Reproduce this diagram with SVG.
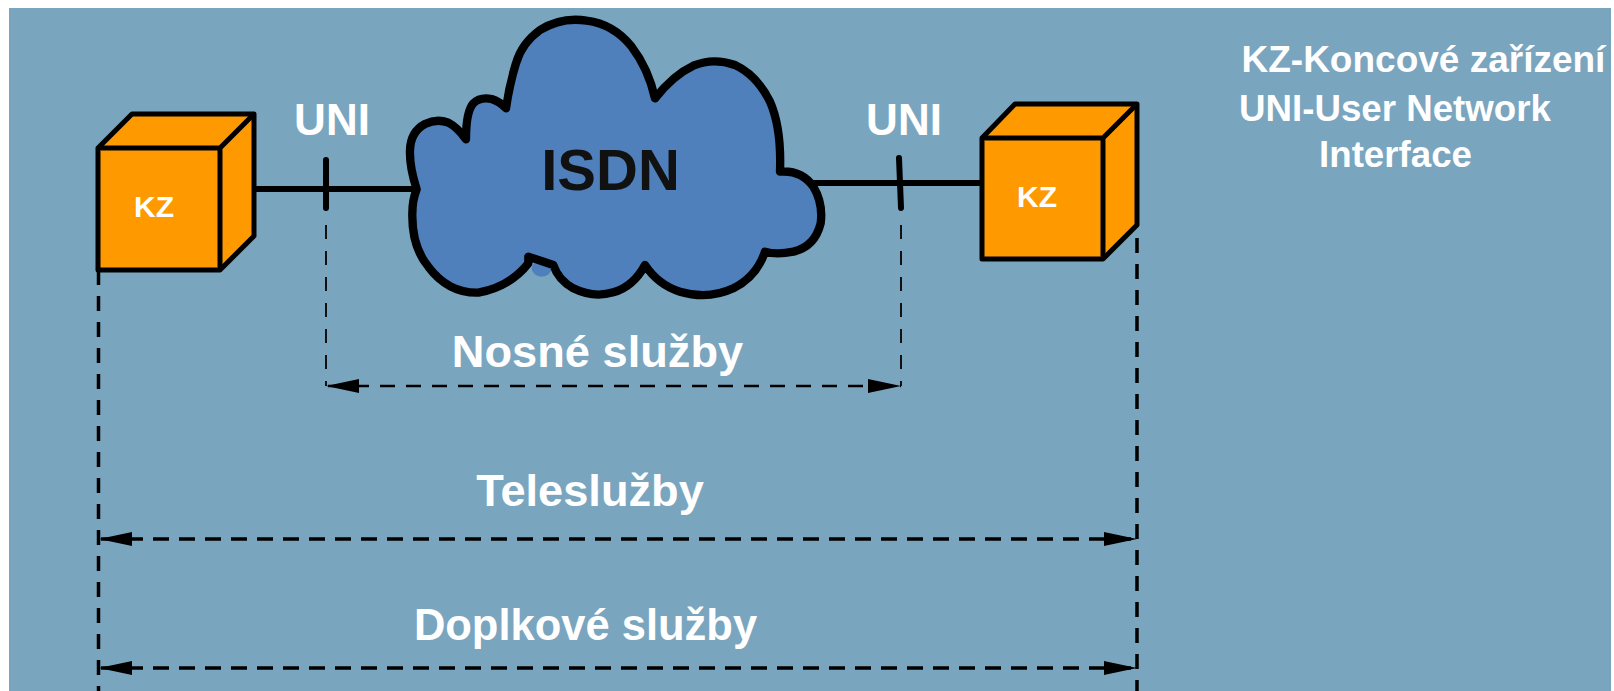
<svg xmlns="http://www.w3.org/2000/svg" width="1614" height="691" viewBox="0 0 1614 691">
<style>
text{font-family:"Liberation Sans",Arial,sans-serif;font-weight:700;fill:#fff}
.m{text-anchor:middle}
.cube{fill:#f90;stroke:#000;stroke-width:5;stroke-linejoin:round}
.wire{stroke:#000;stroke-width:6;stroke-linecap:round;fill:none}
.thin{stroke:#111;stroke-width:2;stroke-dasharray:14 12;fill:none}
.ext{stroke:#000;stroke-width:3.500;stroke-dasharray:15 11;fill:none}
.dim{stroke:#000;stroke-width:3.500;stroke-dasharray:16 10;stroke-dashoffset:-2;fill:none}
.dimthin{stroke:#000;stroke-width:2.500;stroke-dasharray:15 11;stroke-dashoffset:-2;fill:none}
</style>
<defs>
<marker id="ah" markerUnits="userSpaceOnUse" markerWidth="34" markerHeight="14" refX="33" refY="7" orient="auto-start-reverse"><path d="M33 7L0 0V14Z" fill="#000"/></marker>
</defs>
<rect width="1614" height="691" fill="#fff"/>
<rect x="9" y="8" width="1602" height="683" fill="#7aa5bf"/>
<g id="connectors">
<path class="wire" d="M254 189H420M800 183H982"/>
<path class="wire" d="M326 160V208M899 158L901 208"/>
<path class="thin" d="M326 225V386M901 225V386"/>
<path class="ext" d="M98.500 270V691M1137 238V691"/>
<path class="dimthin" d="M326 386H901" marker-start="url(#ah)" marker-end="url(#ah)"/>
<path class="dim" d="M99 539H1137" marker-start="url(#ah)" marker-end="url(#ah)"/>
<path class="dim" d="M99 668H1137" marker-start="url(#ah)" marker-end="url(#ah)"/>
</g>
<g id="cloud">
<g transform="translate(380 0) scale(0.33333)">
<ellipse cx="485" cy="805" rx="30" ry="25" fill="#4f80bc"/>
<path fill="#4f80bc" stroke="#000" stroke-width="25" stroke-linejoin="round" stroke-linecap="round" d="M110 568Q88 500 90 450Q92 395 135 372Q170 355 205 368Q232 382 258 418Q258 335 280 310Q300 290 335 297Q360 305 378 325Q388 255 408 190Q425 130 480 90Q545 50 620 62Q700 72 755 140Q805 205 825 295Q880 225 940 197Q1000 172 1065 195Q1130 225 1170 305Q1205 385 1200 515Q1265 510 1300 560Q1330 610 1322 670Q1305 740 1240 755Q1190 765 1155 755Q1130 830 1060 865Q985 900 900 875Q835 855 795 795Q760 860 700 877Q640 895 580 865Q535 840 520 795L445 770L445 790Q390 860 295 878Q205 880 145 800Q95 740 97 640Q97 600 110 568Z"/>
</g>
<text class="m" x="610.500" y="190" font-size="58" style="fill:#111">ISDN</text>
</g>
<g id="kz-left">
<path class="cube" d="M98 148L132 114H254V236L220 270H98Z"/>
<path class="cube" d="M98 148H220V270M220 148L254 114"/>
<text class="m" x="154" y="217" font-size="30">KZ</text>
</g>
<g id="kz-right">
<path class="cube" d="M982 138L1015 104H1137V225L1103 259H982Z"/>
<path class="cube" d="M982 138H1103V259M1103 138L1137 104"/>
<text class="m" x="1037" y="207" font-size="30">KZ</text>
</g>
<g id="labels">
<text class="m" x="332" y="135" font-size="44">UNI</text>
<text class="m" x="904" y="135" font-size="44">UNI</text>
<text class="m" x="597.500" y="367" font-size="45.200">Nosné služby</text>
<text class="m" x="590" y="506" font-size="45.200">Teleslužby</text>
<text class="m" x="585.500" y="640" font-size="43.500">Doplkové služby</text>
<text x="1241.500" y="72" font-size="37">KZ-Koncové zařízení</text>
<text x="1239" y="121" font-size="36.700">UNI-User Network</text>
<text class="m" x="1395.500" y="167" font-size="36.700">Interface</text>
</g>
</svg>
